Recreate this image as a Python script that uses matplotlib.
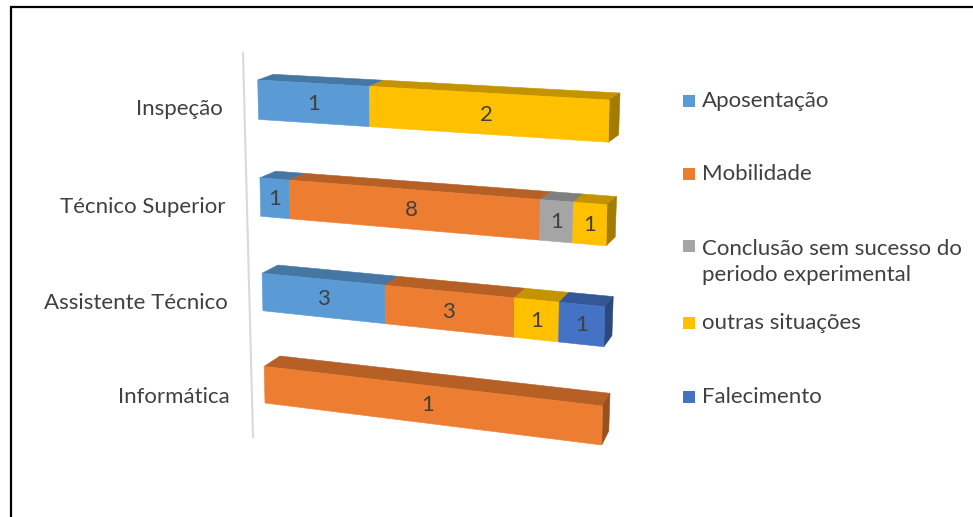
import numpy as np
import matplotlib
matplotlib.use("Agg")
import matplotlib.pyplot as plt
from matplotlib.patches import Polygon, Rectangle

# motivos de saída por carreira
categories = ["Inspeção", "Técnico Superior", "Assistente Técnico", "Informática"]
series = ["Aposentação", "Mobilidade", "Conclusão sem sucesso do\nperiodo experimental",
          "outras situações", "Falecimento"]
aposentacao = [1, 1, 3, 0]
mobilidade = [0, 8, 3, 1]
conclusao = [0, 1, 0, 0]
outras = [2, 1, 1, 0]
falecimento = [0, 0, 1, 0]
colors = ["#5B9BD5", "#ED7D31", "#A5A5A5", "#FFC000", "#4472C4"]

W, H = 973, 517
BAR_H = 0.4          # bar thickness relative to category pitch
TOP_SHADE, SIDE_SHADE = 0.77, 0.64
TXT = "#404040"
FONT = "Lato"
FS = 16


def homography(src, dst):
    rows = []
    for (u, v), (x, y) in zip(src, dst):
        rows.append([u, v, 1, 0, 0, 0, -x * u, -x * v, -x])
        rows.append([0, 0, 0, u, v, 1, -y * u, -y * v, -y])
    _, _, vt = np.linalg.svd(np.array(rows, float))
    return vt[-1].reshape(3, 3)


def proj(Hm, u, v):
    p = Hm @ np.array([u, v, 1.0])
    return p[0] / p[2], p[1] / p[2]


n = len(categories)
# 3D plot box: front wall and back wall of the bars, in pixel space
front = homography([(0, 0), (1, 0), (0, n - 1 + BAR_H), (1, n - 1 + BAR_H)],
                   [(257.7, 80), (609.3, 100), (265, 403), (601.7, 445)])
back = homography([(0, 0), (1, 0), (0, n - 1), (1, n - 1)],
                  [(273.3, 74.3), (620, 93), (280, 356), (610, 393.3)])
F = lambda u, v: proj(front, u, v)
B = lambda u, v: proj(back, u, v)


def shade(c, f):
    r, g, b = matplotlib.colors.to_rgb(c)
    return (r * f, g * f, b * f)


fig = plt.figure(figsize=(W / 100, H / 100), dpi=100)
ax = fig.add_axes([0, 0, 1, 1])
ax.set_xlim(0, W)
ax.set_ylim(H, 0)
ax.axis("off")

# frame (only top and left edges are in view)
ax.plot([10, W], [6.5, 6.5], color="black", lw=1.6, solid_capstyle="butt")
ax.plot([10.5, 10.5], [6, H], color="black", lw=1.6, solid_capstyle="butt")

# category axis line
ax.plot([243, 253], [53, 437], color="#D9D9D9", lw=1.5)

values = np.array([aposentacao, mobilidade, conclusao, outras, falecimento], float)

for i, cat in enumerate(categories):
    vals = values[:, i]
    fr = np.concatenate([[0], np.cumsum(vals)]) / vals.sum()
    segs = [(k, fr[k], fr[k + 1]) for k in range(len(vals)) if vals[k] > 0]
    t, b = i, i + BAR_H
    # top faces
    for k, u0, u1 in segs:
        pts = [F(u0, t), F(u1, t), B(u1, t), B(u0, t)]
        ax.add_patch(Polygon(pts, closed=True, fc=shade(colors[k], TOP_SHADE),
                             ec=shade(colors[k], TOP_SHADE), lw=0.4, zorder=2))
    # right end face
    k_last = segs[-1][0]
    pts = [F(1, t), B(1, t), B(1, b), F(1, b)]
    ax.add_patch(Polygon(pts, closed=True, fc=shade(colors[k_last], SIDE_SHADE),
                         ec=shade(colors[k_last], SIDE_SHADE), lw=0.4, zorder=2))
    # front faces with value labels
    for k, u0, u1 in segs:
        pts = [F(u0, t), F(u1, t), F(u1, b), F(u0, b)]
        ax.add_patch(Polygon(pts, closed=True, fc=colors[k], ec=colors[k], lw=0.4, zorder=3))
        cx, cy = F((u0 + u1) / 2, (t + b) / 2)
        ax.text(cx, cy + 1, f"{int(vals[k])}", ha="center", va="center", color=TXT,
                fontsize=FS, family=FONT, zorder=4)
    lx, ly = F(0, (t + b) / 2)
    ax.text(lx - 35, ly + 9 + i, cat, ha="right", va="center", color=TXT,
            fontsize=FS, family=FONT)

# legend
leg_y = [101, 174, 262, 323, 397]
for k, name in enumerate(series):
    y = leg_y[k]
    sq_y = y - 16 if "\n" in name else y
    ax.add_patch(Rectangle((683, sq_y - 6), 12, 12, fc=colors[k], ec="none"))
    ax.text(702, y, name, ha="left", va="center", color=TXT, fontsize=FS,
            family=FONT, linespacing=1.35)

fig.savefig("out.png", dpi=100)
